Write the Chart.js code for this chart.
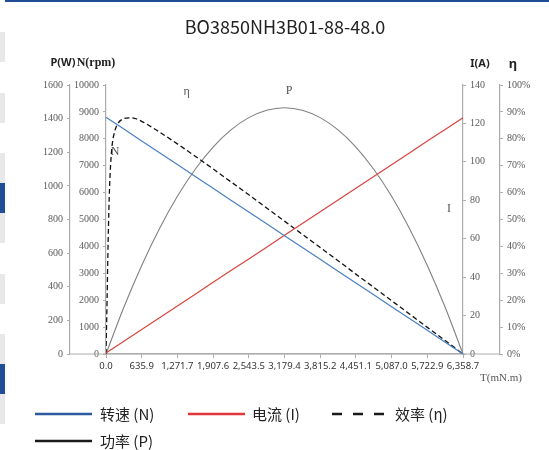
<!DOCTYPE html>
<html>
<head>
<meta charset="utf-8">
<script src="https://cdn.jsdelivr.net/npm/chart.js@4.4.1/dist/chart.umd.min.js"></script>
<style>
  html, body { margin: 0; padding: 0; background: #fff; }
  #wrap { position: relative; width: 549px; height: 450px; overflow: hidden; }
  #chart { position: absolute; left: 0; top: 0; }
  .strip { position: absolute; left: 0; width: 5px; height: 30px; background: #e8e8ea; }
  .strip.blue { background: #1f4e96; }
  #topline { position: absolute; left: 5px; top: 0; width: 544px; height: 2px; background: #1f4e96; }
</style>
</head>
<body>
<div id="wrap">
  <div id="topline"></div>
  <div class="strip" style="top:32px"></div>
  <div class="strip" style="top:93px"></div>
  <div class="strip" style="top:153px"></div>
  <div class="strip blue" style="top:183px"></div>
  <div class="strip" style="top:213px"></div>
  <div class="strip" style="top:274px"></div>
  <div class="strip" style="top:334px"></div>
  <div class="strip blue" style="top:364px"></div>
  <div class="strip" style="top:394px"></div>
  <canvas id="chart" width="549" height="450"></canvas>
</div>
<script>
// torque (mN.m) sample points
const torque = [0, 317.9, 635.9, 953.8, 1271.7, 1589.7, 1907.6, 2225.5, 2543.5, 2861.4, 3179.4,
  3497.3, 3815.2, 4133.2, 4451.1, 4769.0, 5087.0, 5404.9, 5722.9, 6040.8, 6358.7];
const speed = [8800, 8360, 7920, 7480, 7040, 6600, 6160, 5720, 5280, 4840, 4400,
  3960, 3520, 3080, 2640, 2200, 1760, 1320, 880, 440, 0];
const current = [0.5, 6.6, 12.8, 18.9, 25.0, 31.1, 37.3, 43.4, 49.5, 55.6, 61.8,
  67.9, 74.0, 80.1, 86.3, 92.4, 98.5, 104.6, 110.8, 116.9, 123.0];
const power = [0, 278, 527, 747, 938, 1099, 1231, 1333, 1406, 1450, 1465,
  1450, 1406, 1333, 1231, 1099, 938, 747, 527, 278, 0];

// efficiency needs denser points near stall-free end
const effTorque = [0, 19.1, 38.2, 63.6, 101.7, 159.0, 222.6, 317.9, 413.3, 508.7, 635.9, 953.8,
  1271.7, 1589.7, 1907.6, 2225.5, 2543.5, 2861.4, 3179.4, 3497.3, 3815.2, 4133.2, 4451.1,
  4769.0, 5087.0, 5404.9, 5722.9, 6040.8, 6358.7];
const efficiency = [0, 20, 42, 62, 76, 83, 86, 87.5, 87.8, 87.6, 86.5, 82.5,
  78.1, 73.5, 68.8, 64.0, 59.2, 54.3, 49.4, 44.5, 39.6, 34.7, 29.7,
  24.8, 19.8, 14.9, 9.9, 5.0, 0];

const xTickValues = [0, 635.87, 1271.74, 1907.61, 2543.48, 3179.35, 3815.22, 4451.09, 5086.96, 5722.83, 6358.7];
const xTickLabels = ['0.0', '635.9', '1,271.7', '1,907.6', '2,543.5', '3,179.4', '3,815.2',
  '4,451.1', '5,087.0', '5,722.9', '6,358.7'];

const seriesNames = ['转速 (N)', '电流 (I)', '效率 (η)', '功率 (P)'];
const chartTitle = 'BO3850NH3B01-88-48.0';

// in-plot curve tags: [text, torque, rpm-axis value]
const curveTags = [['N', 160, 7520], ['η', 1437, 9750], ['P', 3260, 9780], ['I', 6109, 5390]];

const AXIS = '#acacac';
const serifTick = { family: 'Liberation Serif', size: 10 };

function pts(xs, ys) {
  return xs.map((x, i) => ({ x: x, y: ys[i] }));
}

function yAxis(pos, weight, min, max, step, w, fmt) {
  return {
    type: 'linear', position: pos, weight: weight, min: min, max: max,
    grid: { drawOnChartArea: false, color: AXIS, tickLength: 3 },
    border: { color: AXIS, width: 1.2 },
    ticks: { stepSize: step, font: serifTick, color: '#595959', padding: 4,
      callback: fmt || (v => v) },
    afterFit: s => { s.width = w; }
  };
}

const decor = {
  id: 'decor',
  beforeDatasetsDraw(chart) {
    const { ctx, chartArea, scales } = chart;
    ctx.save();
    ctx.strokeStyle = AXIS;
    ctx.lineWidth = 1.2;
    ctx.beginPath();
    ctx.moveTo(scales.yP.right, chartArea.bottom);
    ctx.lineTo(scales.yE.left, chartArea.bottom);
    ctx.stroke();
    ctx.restore();
  },
  afterDraw(chart) {
    const { ctx, chartArea, scales } = chart;
    ctx.save();
    ctx.textBaseline = 'middle';
    ctx.textAlign = 'center';

    ctx.fillStyle = '#222';
    ctx.font = '18px "Noto Sans CJK SC", "Noto Sans"';
    ctx.fillText(chartTitle, 285, 27);

    // axis headers
    ctx.fillStyle = '#222';
    ctx.font = 'bold 11px "Noto Sans"';
    ctx.fillText('P(W)', scales.yP.right - 7, 63);
    ctx.fillText('I(A)', scales.yI.left + 17, 64);
    ctx.font = 'bold 13px "Noto Sans"';
    ctx.fillText('η', scales.yE.left + 13, 64);
    ctx.font = 'bold 12px "Liberation Serif"';
    ctx.fillText('N(rpm)', scales.yN.right - 10, 63);

    ctx.fillStyle = '#555';
    ctx.font = '11px "Liberation Serif"';
    ctx.fillText('T(mN.m)', chartArea.right + 38, 378);

    ctx.font = '12px "Liberation Serif"';
    curveTags.forEach(t => {
      ctx.fillText(t[0], scales.x.getPixelForValue(t[1]), scales.yN.getPixelForValue(t[2]));
    });

    // legend
    const items = [
      [0, 35, 414, 57, 100], [1, 188, 414, 57, 252], [2, 332, 414, 54, 395], [3, 35, 441, 57, 100]
    ];
    const legendColors = ['#2e5b9f', '#e0383a', '#1a1a1a', '#1a1a1a'];
    ctx.textAlign = 'left';
    ctx.font = '15px "Noto Sans CJK SC", "Noto Sans"';
    items.forEach(it => {
      const i = it[0];
      ctx.strokeStyle = legendColors[i];
      ctx.lineWidth = 2.5;
      ctx.setLineDash(i === 2 ? [10, 11] : []);
      ctx.beginPath();
      ctx.moveTo(it[1], it[2]);
      ctx.lineTo(it[1] + it[3], it[2]);
      ctx.stroke();
      ctx.setLineDash([]);
      ctx.fillStyle = '#222';
      ctx.fillText(seriesNames[i], it[4], it[2]);
    });
    ctx.restore();
  }
};

new Chart(document.getElementById('chart'), {
  type: 'line',
  data: {
    datasets: [
      { label: seriesNames[0], data: pts(torque, speed), yAxisID: 'yN',
        borderColor: '#4a7fc1', borderWidth: 1.2, pointRadius: 0 },
      { label: seriesNames[1], data: pts(torque, current), yAxisID: 'yI',
        borderColor: '#d9443f', borderWidth: 1.2, pointRadius: 0 },
      { label: seriesNames[2], data: pts(effTorque, efficiency), yAxisID: 'yE',
        borderColor: '#111', borderWidth: 1.3, borderDash: [5, 3], pointRadius: 0,
        cubicInterpolationMode: 'monotone' },
      { label: seriesNames[3], data: pts(torque, power), yAxisID: 'yP',
        borderColor: '#808080', borderWidth: 1.1, pointRadius: 0,
        cubicInterpolationMode: 'monotone' }
    ]
  },
  options: {
    responsive: false,
    animation: false,
    layout: { padding: { left: 38, right: 19, top: 85, bottom: 74 } },
    plugins: { legend: { display: false }, title: { display: false }, tooltip: { enabled: false } },
    scales: {
      x: {
        type: 'linear', min: 0, max: 6358.7,
        grid: { drawOnChartArea: false, color: AXIS, tickLength: 4 },
        border: { color: AXIS, width: 1.2 },
        afterBuildTicks: s => { s.ticks = xTickValues.map(v => ({ value: v })); },
        ticks: { autoSkip: false, maxRotation: 0, padding: 3,
          font: { family: 'Noto Sans', size: 9.5 }, color: '#333',
          callback: (v, i) => xTickLabels[i] },
        afterFit: s => { s.height = 22; }
      },
      yN: yAxis('left', 0, 0, 10000, 1000, 36),
      yP: yAxis('left', 1, 0, 1600, 200, 32),
      yI: yAxis('right', 0, 0, 140, 20, 37),
      yE: yAxis('right', 1, 0, 100, 10, 30, v => v + '%')
    }
  },
  plugins: [decor]
});
</script>
</body>
</html>
